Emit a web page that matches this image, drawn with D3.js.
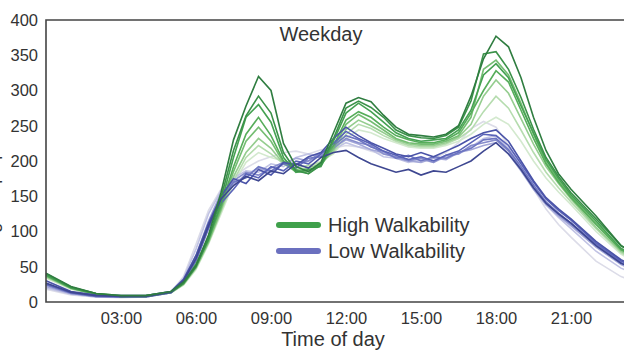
<!DOCTYPE html>
<html>
<head>
<meta charset="utf-8">
<script src="https://cdn.jsdelivr.net/npm/d3@7"></script>
<style>
  body { margin: 0; background: #fff; }
  text { font-family: "Liberation Sans", Arial, sans-serif; fill: #333; }
</style>
</head>
<body>
<svg width="624" height="351"></svg>
<script>
// hour of day for every sample
const hours = [0,1,2,3,4,5,5.5,6,6.5,7,7.5,8,8.5,9,9.5,10,10.5,11,11.5,12,12.5,13,13.5,14,14.5,15,15.5,16,16.5,17,17.5,18,18.5,19,19.5,20,20.5,21,22,23,24]

// high walkability cities (dark -> light)
const highWalk = [
  [41,22,12,9,9,15,28,52,95,155,230,278,320,300,225,192,185,198,240,282,290,284,265,248,238,236,234,238,250,292,345,377,362,318,262,215,182,160,122,80,58],
  [40,21,12,8,9,14,26,50,90,148,215,264,292,268,212,186,182,194,232,275,285,276,262,244,236,233,232,236,248,285,352,355,330,290,245,205,178,155,118,80,60],
  [38,20,11,8,8,14,27,52,88,140,205,262,280,255,205,184,188,192,228,268,282,270,255,240,232,228,230,232,244,272,322,338,318,278,240,202,175,152,115,76,56],
  [39,21,12,9,9,15,28,54,92,135,192,238,262,236,200,188,182,196,222,258,270,262,248,236,230,226,226,230,240,268,300,328,312,272,232,196,170,148,110,74,55],
  [37,20,11,8,8,14,26,50,86,132,185,228,248,228,198,184,186,194,218,252,266,256,244,232,226,224,224,228,236,262,330,343,322,282,238,198,172,150,112,76,56],
  [36,19,11,8,8,13,25,48,84,130,178,212,232,218,196,186,190,196,215,245,258,250,240,230,224,222,222,226,234,252,292,315,296,260,224,192,168,146,106,72,53],
  [35,19,10,8,8,13,25,48,85,128,172,205,222,210,196,190,194,198,212,238,252,246,236,228,222,220,220,224,232,244,270,292,275,244,212,184,162,142,104,70,51],
  [34,18,10,7,8,13,24,46,82,125,168,198,212,205,200,194,192,200,210,232,244,240,232,226,220,218,218,222,228,238,252,262,252,228,200,176,156,138,100,68,48]
]

// low walkability cities (dark -> light)
const lowWalk = [
  [27,14,9,8,8,14,30,62,108,146,165,178,172,186,182,196,190,205,212,215,205,196,190,184,188,180,186,184,192,200,214,226,210,188,162,140,125,112,80,55,40],
  [30,15,10,9,9,15,32,66,112,150,175,168,188,180,198,194,206,212,232,248,236,226,218,210,206,212,206,214,222,232,240,244,228,200,172,148,132,118,86,60,44],
  [26,13,9,8,8,14,29,60,106,140,160,182,176,192,186,200,196,210,225,242,232,224,214,208,202,206,200,208,214,226,238,236,222,196,170,146,130,116,84,58,42],
  [25,13,8,7,8,13,28,58,104,144,170,176,192,186,196,190,204,206,222,236,230,220,214,204,208,200,206,204,212,218,230,232,216,192,166,142,126,112,82,56,41],
  [24,12,8,7,7,13,28,60,108,150,172,184,180,190,198,196,200,212,218,232,226,222,210,206,200,204,198,208,210,222,226,230,214,188,162,140,124,110,80,55,40],
  [22,12,8,7,7,13,30,66,115,155,168,180,190,184,196,204,200,208,220,230,224,216,212,204,200,198,204,202,212,216,222,226,210,186,160,138,122,108,78,53,38],
  [20,11,7,7,7,14,34,75,125,158,176,186,184,196,192,205,210,206,216,226,220,216,206,204,198,202,198,206,210,220,232,236,218,190,162,138,120,104,72,48,34],
  [18,10,7,6,7,14,36,82,130,160,178,190,200,206,212,214,210,216,218,222,220,214,210,206,202,200,204,212,226,246,256,248,222,190,160,132,110,92,58,36,24]
]

const greenShades = ["#2f7d40","#3b9249","#45a152","#56ad5a","#74bd72","#95cd8f","#b5dcae","#d3e9ce"]
const blueShades  = ["#3e4791","#4a53a8","#5a63b8","#6d75c2","#878dcc","#a3a7d8","#c1c3e4","#dcdce8"]

const yTicks = [0,50,100,150,200,250,300,350,400]
const xTicks = [3,6,9,12,15,18,21]
const legendItems = [
  {label: "High Walkability", color: "#3fa04b"},
  {label: "Low Walkability", color: "#6b70bf"}
]

const svg = d3.select("svg")
const margin = {top: 20, left: 46, bottom: 49}
const height = +svg.attr("height")

const xScale = d3.scaleLinear()
  .domain([0, 24])
  .range([margin.left, margin.left + 600])

const yScale = d3.scaleLinear()
  .domain([0, 400])
  .range([height - margin.bottom, margin.top])

const line = d3.line()
  .x((d, i) => xScale(hours[i]))
  .y(d => yScale(d))

// lines, lightest first so the dark ones sit on top
const linesG = svg.append("g")
for (let i = highWalk.length - 1; i >= 0; i--) {
  linesG.append("path")
    .datum(lowWalk[i])
    .attr("fill", "none")
    .attr("stroke", blueShades[i])
    .attr("stroke-width", 1.6)
    .attr("d", line)
  linesG.append("path")
    .datum(highWalk[i])
    .attr("fill", "none")
    .attr("stroke", greenShades[i])
    .attr("stroke-width", 1.6)
    .attr("d", line)
}

// frame
const yAxis = d3.axisLeft(yScale).tickValues(yTicks).tickSize(0).tickPadding(8)
const xAxis = d3.axisBottom(xScale).tickValues(xTicks).tickSize(0).tickPadding(10)
  .tickFormat(d => d3.format("02")(d) + ":00")

const yAxisG = svg.append("g")
  .attr("transform", `translate(${margin.left},0)`)
  .call(yAxis)
const xAxisG = svg.append("g")
  .attr("transform", `translate(0,${height - margin.bottom})`)
  .call(xAxis)

svg.selectAll(".domain").remove()
svg.selectAll(".tick text")
  .attr("font-size", 16.5)
  .attr("fill", "#333")
  .style("font-family", '"Liberation Sans", Arial, sans-serif')

svg.append("path")
  .attr("d", `M${xScale(24)},${yScale(400)}H${xScale(0)}V${yScale(0)}H${xScale(24)}`)
  .attr("fill", "none")
  .attr("stroke", "#444")
  .attr("stroke-width", 1.6)

svg.append("text")
  .attr("x", 321)
  .attr("y", 41)
  .attr("text-anchor", "middle")
  .attr("font-size", 20)
  .text("Weekday")

svg.append("text")
  .attr("x", 333)
  .attr("y", 346)
  .attr("text-anchor", "middle")
  .attr("font-size", 20)
  .text("Time of day")

// y title, mostly cut off at the left edge in the original
svg.append("text")
  .attr("transform", "translate(-2,160) rotate(-90)")
  .attr("text-anchor", "middle")
  .attr("font-size", 18)
  .text("Average steps per 30 minutes")

const legendG = svg.append("g")
legendG.selectAll("line").data(legendItems)
  .enter().append("line")
  .attr("x1", 279)
  .attr("x2", 318)
  .attr("y1", (d, i) => 225 + i * 26)
  .attr("y2", (d, i) => 225 + i * 26)
  .attr("stroke", d => d.color)
  .attr("stroke-width", 6)
  .attr("stroke-linecap", "round")
legendG.selectAll("text").data(legendItems)
  .enter().append("text")
  .attr("x", 328)
  .attr("y", (d, i) => 225 + i * 26)
  .attr("dy", "0.36em")
  .attr("font-size", 20)
  .text(d => d.label)
</script>
</body>
</html>
